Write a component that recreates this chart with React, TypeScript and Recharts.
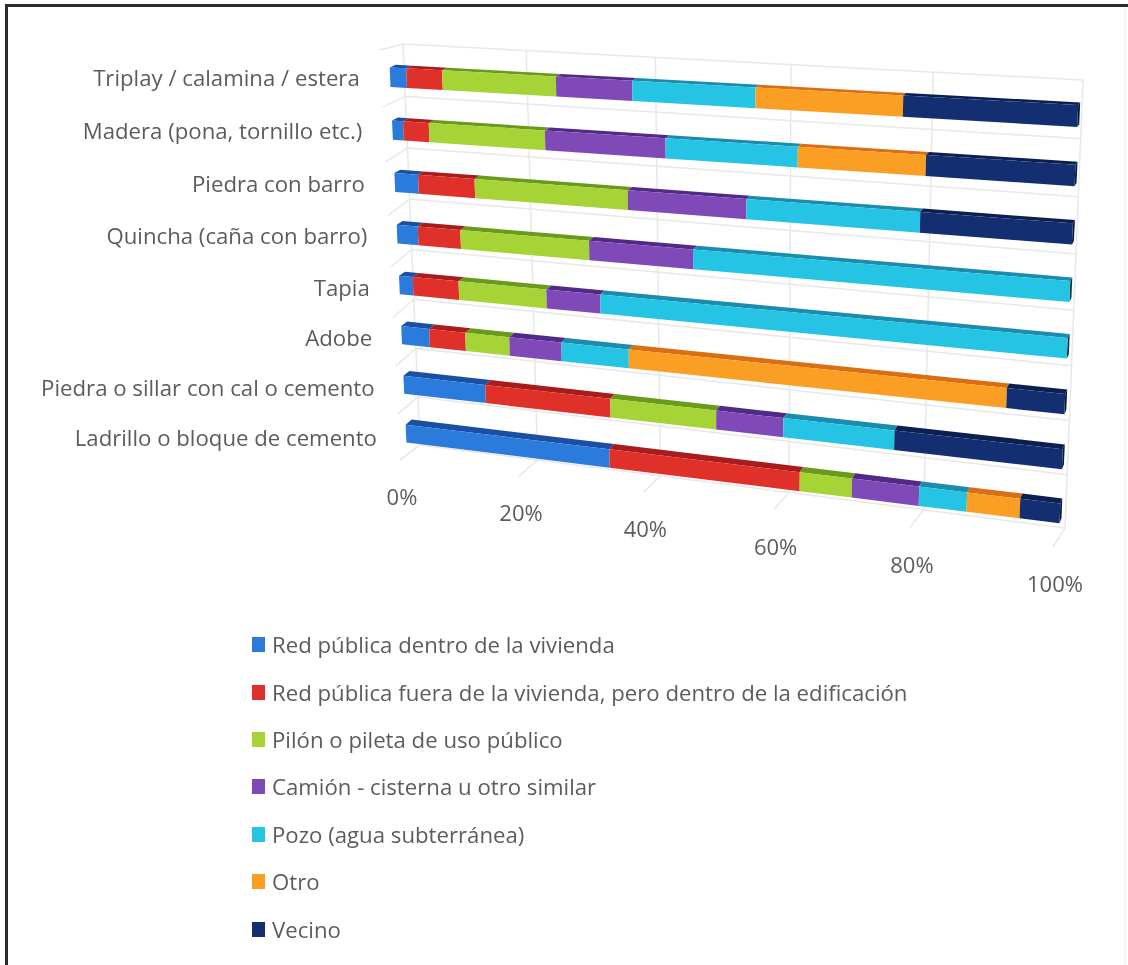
import { BarChart, Bar, XAxis, YAxis, CartesianGrid, Legend } from "recharts"

const categories = [
  "Triplay / calamina / estera",
  "Madera (pona, tornillo etc.)",
  "Piedra con barro",
  "Quincha (caña con barro)",
  "Tapia",
  "Adobe",
  "Piedra o sillar con cal o cemento",
  "Ladrillo o bloque de cemento",
]

const redDentro = [2.7, 1.8, 3.9, 3.5, 2.3, 4.7, 13.7, 33.6]
const redFuera = [5.8, 4.2, 9.2, 7.0, 7.6, 6.0, 20.2, 29.3]
const pilon = [17.9, 18.5, 24.0, 20.5, 14.2, 7.2, 16.4, 7.7]
const camion = [11.6, 18.4, 17.7, 15.9, 8.5, 8.4, 10.1, 9.7]
const pozo = [18.1, 19.3, 24.7, 53.1, 67.4, 10.6, 16.2, 6.8]
const otro = [20.7, 17.9, 0, 0, 0, 55.2, 0, 7.4]
const vecino = [23.2, 19.9, 20.5, 0, 0, 7.9, 23.4, 5.5]

const percentTicks = [0, 20, 40, 60, 80, 100]

const series = [
  { key: "redDentro", name: "Red pública dentro de la vivienda", values: redDentro, front: "#2a7bdc", top: "#1a4fa6", side: "#12397c" },
  { key: "redFuera", name: "Red pública fuera de la vivienda, pero dentro de la edificación", values: redFuera, front: "#e0302a", top: "#a81c1c", side: "#7c1414" },
  { key: "pilon", name: "Pilón o pileta de uso público", values: pilon, front: "#a6d335", top: "#6a9a1c", side: "#4f7414" },
  { key: "camion", name: "Camión - cisterna u otro similar", values: camion, front: "#8049b8", top: "#512a87", side: "#3a1e63" },
  { key: "pozo", name: "Pozo (agua subterránea)", values: pozo, front: "#26c4e4", top: "#1a8cad", side: "#0c2f48" },
  { key: "otro", name: "Otro", values: otro, front: "#fb9e24", top: "#d96f12", side: "#a8540c" },
  { key: "vecino", name: "Vecino", values: vecino, front: "#132f72", top: "#0c1f50", side: "#091a3c" },
]

const tableData = categories.map((name, i) => {
  const row: Record<string, string | number> = { name }
  series.forEach((s) => {
    row[s.key] = s.values[i]
  })
  return row
})

const WIDTH = 1128
const HEIGHT = 965
// the axes need 1px each or recharts drops their ticks
const PLOT_W = WIDTH - 1
const PLOT_H = HEIGHT - 1
const FONT = "'Open Sans', sans-serif"
const TEXT = "#5c5c5c"
const GRID = "#e8e8ea"

const toU = (x: number) => (x - 1) / PLOT_W
const toV = (y: number) => y / PLOT_H

type Pt = [number, number]

// square -> quad projection, the excel 3d look is a real perspective
function makeProjection(p0: Pt, p1: Pt, p2: Pt, p3: Pt) {
  const dx1 = p1[0] - p2[0]
  const dx2 = p3[0] - p2[0]
  const sx = p0[0] - p1[0] + p2[0] - p3[0]
  const dy1 = p1[1] - p2[1]
  const dy2 = p3[1] - p2[1]
  const sy = p0[1] - p1[1] + p2[1] - p3[1]
  const det = dx1 * dy2 - dx2 * dy1
  const g = (sx * dy2 - dx2 * sy) / det
  const h = (dx1 * sy - sx * dy1) / det
  const a = p1[0] - p0[0] + g * p1[0]
  const b = p3[0] - p0[0] + h * p3[0]
  const d = p1[1] - p0[1] + g * p1[1]
  const e = p3[1] - p0[1] + h * p3[1]
  return (u: number, v: number): Pt => {
    const w = g * u + h * v + 1
    return [(a * u + b * v + p0[0]) / w, (d * u + e * v + p0[1]) / w]
  }
}

const barPlane = makeProjection([388.9, 50.5], [1079, 86.1], [1058.7, 540.4], [407.1, 458])
const backWall = makeProjection([403, 44], [1083, 80], [1065, 528], [420, 445])
const sideWall = makeProjection([380, 50], [403, 44], [420, 445], [400, 460])

const FLOOR_LEFT: Pt = [400, 460]
const FLOOR_RIGHT: Pt = [1053, 547]

// front edge of the floor, foreshortened the same way as the back wall
const floorFront = (u: number): Pt => {
  const t = (backWall(u, 1)[0] - 420) / (1065 - 420)
  return [FLOOR_LEFT[0] + (FLOOR_RIGHT[0] - FLOOR_LEFT[0]) * t, FLOOR_LEFT[1] + (FLOOR_RIGHT[1] - FLOOR_LEFT[1]) * t]
}

const poly = (pts: Pt[]) => pts.map((p) => `${p[0].toFixed(1)},${p[1].toFixed(1)}`).join(" ")

// how far the top and side faces go back into the chart
const depth = (u: number, v: number): Pt => [6 - 4 * u, -(2.5 + 3 * v)]
const back = (p: Pt, u: number, v: number): Pt => {
  const s = depth(u, v)
  return [p[0] + s[0], p[1] + s[1]]
}

function Segment(props: any) {
  const { x, y, width, height, front, top, side } = props
  if (!width || width <= 0) return null
  const u0 = toU(x)
  const u1 = toU(x + width)
  const v0 = toV(y)
  const v1 = toV(y + height)
  const tl = barPlane(u0, v0)
  const tr = barPlane(u1, v0)
  const br = barPlane(u1, v1)
  const bl = barPlane(u0, v1)
  const btl = back(tl, u0, v0)
  const btr = back(tr, u1, v0)
  const bbr = back(br, u1, v1)
  return (
    <g>
      <polygon points={poly([tl, tr, btr, btl])} fill={top} />
      {u1 > 0.999 && <polygon points={poly([tr, btr, bbr, br])} fill={side} />}
      <polygon points={poly([tl, tr, br, bl])} fill={front} />
    </g>
  )
}

function WallRow(props: any) {
  const v = toV(props.y1)
  const a = sideWall(0, v)
  const b = backWall(0, v)
  const c = backWall(1, v)
  return <polyline points={poly([a, b, c])} fill="none" stroke={GRID} strokeWidth={1.5} />
}

function WallColumn(props: any) {
  const u = toU(props.x1)
  const a = backWall(u, 0)
  const b = backWall(u, 1)
  const c = floorFront(u)
  return <polyline points={poly([a, b, c])} fill="none" stroke={GRID} strokeWidth={1.5} />
}

function CategoryTick(props: any) {
  const { y, payload } = props
  const v = toV(y)
  const p = barPlane(-0.05, v)
  return (
    <text x={p[0]} y={p[1] + 10 + 6 * v} textAnchor="end" fill={TEXT} fontFamily={FONT} fontSize={22.2}>
      {payload.value}
    </text>
  )
}

function PercentTick(props: any) {
  const { x, payload } = props
  const p = floorFront(toU(x))
  return (
    <text x={p[0] + 2} y={p[1] + 45} textAnchor="middle" fill={TEXT} fontFamily={FONT} fontSize={22}>
      {payload.value}%
    </text>
  )
}

function LegendList() {
  return (
    <div>
      {series.map((s) => (
        <div key={s.key} style={{ display: "flex", alignItems: "center", height: 47.4, whiteSpace: "nowrap" }}>
          <span style={{ width: 13, height: 15, background: s.front, marginRight: 7, flex: "none" }} />
          <span style={{ fontFamily: FONT, fontSize: 22.2, color: TEXT }}>{s.name}</span>
        </div>
      ))}
    </div>
  )
}

const horizontalPoints = categories.map((_, i) => ((i + 1) * PLOT_H) / 8).concat([0])
const verticalPoints = percentTicks.map((t) => 1 + (t / 100) * PLOT_W)

export default function App() {
  return (
    <div style={{ position: "absolute", left: 0, top: 0, width: WIDTH, height: HEIGHT, background: "#fff", overflow: "hidden" }}>
      <div style={{ position: "absolute", left: 5, top: 4, right: 0, height: 3, background: "#2a2a2a" }} />
      <div style={{ position: "absolute", left: 5, top: 4, bottom: 0, width: 3, background: "#2a2a2a" }} />
      <div style={{ position: "absolute", left: 1124, top: 7, bottom: 0, width: 2, background: "#f5f5f5" }} />
      <div style={{ position: "absolute", left: 0, top: 0, filter: "blur(0.5px)" }}>
        <BarChart
          width={WIDTH}
          height={HEIGHT}
          data={tableData}
          layout="vertical"
          margin={{ top: 0, right: 0, bottom: 0, left: 0 }}
          barSize={44}
        >
          <CartesianGrid
            horizontalPoints={horizontalPoints}
            verticalPoints={verticalPoints}
            horizontal={(p: any) => <WallRow key={p.key} {...p} />}
            vertical={(p: any) => <WallColumn key={p.key} {...p} />}
          />
          <XAxis
            type="number"
            domain={[0, 100]}
            ticks={percentTicks}
            orientation="bottom"
            height={1}
            axisLine={false}
            tickLine={false}
            interval={0}
            tick={<PercentTick />}
          />
          <YAxis
            type="category"
            dataKey="name"
            width={1}
            axisLine={false}
            tickLine={false}
            interval={0}
            tick={<CategoryTick />}
          />
          <Legend
            layout="vertical"
            align="center"
            verticalAlign="middle"
            wrapperStyle={{ left: 252, top: 621, width: 700 }}
            content={<LegendList />}
          />
          {series.map((s) => (
            <Bar
              key={s.key}
              dataKey={s.key}
              name={s.name}
              stackId="a"
              fill={s.front}
              isAnimationActive={false}
              shape={<Segment front={s.front} top={s.top} side={s.side} />}
            />
          ))}
        </BarChart>
      </div>
    </div>
  )
}
